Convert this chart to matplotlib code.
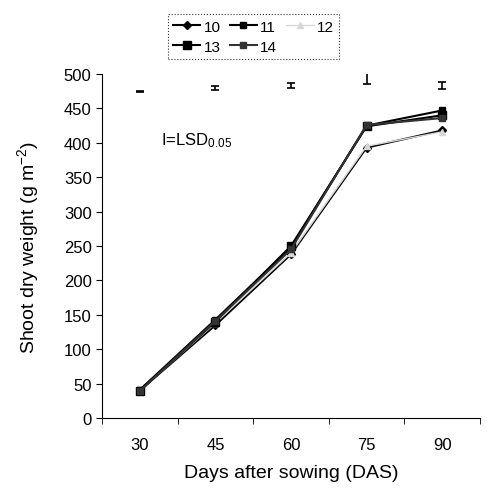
import matplotlib
matplotlib.use("Agg")
import matplotlib.pyplot as plt
import numpy as np

plt.rcParams['font.family'] = ['Liberation Sans', 'DejaVu Sans']
plt.rcParams['mathtext.fontset'] = 'custom'
plt.rcParams['mathtext.rm'] = 'Liberation Sans'
plt.rcParams['mathtext.it'] = 'Liberation Sans:italic'

categories = ["30", "45", "60", "75", "90"]
series_names = ["10", "11", "12", "13", "14"]
s10 = [40, 135, 238, 393, 418]
s11 = [41, 143, 248, 425, 447]
s12 = [40, 138, 240, 395, 416]
s13 = [40, 140, 250, 424, 440]
s14 = [39, 141, 245, 426, 436]
lsd_center = [475, 480, 483, 493, 483]
lsd_half = [1, 3, 4, 8, 5]

fig = plt.figure(figsize=(4.92, 4.89), dpi=100)
ax = fig.add_axes([0.2073, 0.1431, 0.9756 - 0.2073, 0.8466 - 0.1431])

x = np.arange(len(categories))
styles = [
    dict(marker='D', color='black', ms=4, lw=1.5),
    dict(marker='s', color='black', ms=5, lw=1.5),
    dict(marker='^', color='#d8d8d8', ms=4, lw=1.0),
    dict(marker='s', color='black', ms=6, lw=1.5),
    dict(marker='s', color='#333333', ms=5, lw=1.5),
]
handles = []
for name, vals, st in zip(series_names, [s10, s11, s12, s13, s14], styles):
    h, = ax.plot(x, vals, label=name, **st)
    handles.append(h)

ax.errorbar(x, lsd_center, yerr=lsd_half, fmt='none', ecolor='black',
            elinewidth=1.2, capsize=3, capthick=1.2)

ax.text(0.28, 405, r"I=LSD$_{\mathit{0.05}}$", fontsize=12, va='center', ha='left')

ax.set_xlim(-0.5, 4.315)
ax.set_ylim(0, 500)
ax.set_yticks(range(0, 501, 50))
ax.set_xticks(x)
ax.set_xticklabels(categories)
ax.set_xticks(np.arange(-0.5, 4.6, 1), minor=True)
ax.tick_params(axis='x', which='major', length=0, labelsize=12, pad=14)
ax.tick_params(axis='x', which='minor', length=4, direction='out')
ax.tick_params(axis='y', length=4, direction='out', labelsize=12)
ax.spines['top'].set_visible(False)
ax.spines['right'].set_visible(False)
ax.set_xlabel("Days after sowing (DAS)", fontsize=14, labelpad=8)
ax.set_ylabel(r"Shoot dry weight (g m$^{-2}$)", fontsize=14, labelpad=16)

order = [0, 3, 1, 4, 2]
leg = fig.legend([handles[i] for i in order], [series_names[i] for i in order],
                 loc='center', bbox_to_anchor=(0.515, 0.923), ncol=3,
                 fontsize=11, frameon=True, fancybox=False, handlelength=1.8,
                 columnspacing=0.6, handletextpad=0.2, borderpad=0.35,
                 labelspacing=0.4)
leg.get_frame().set_edgecolor('black')
leg.get_frame().set_linestyle(':')
leg.get_frame().set_linewidth(0.8)

fig.savefig("out.png", dpi=100)
